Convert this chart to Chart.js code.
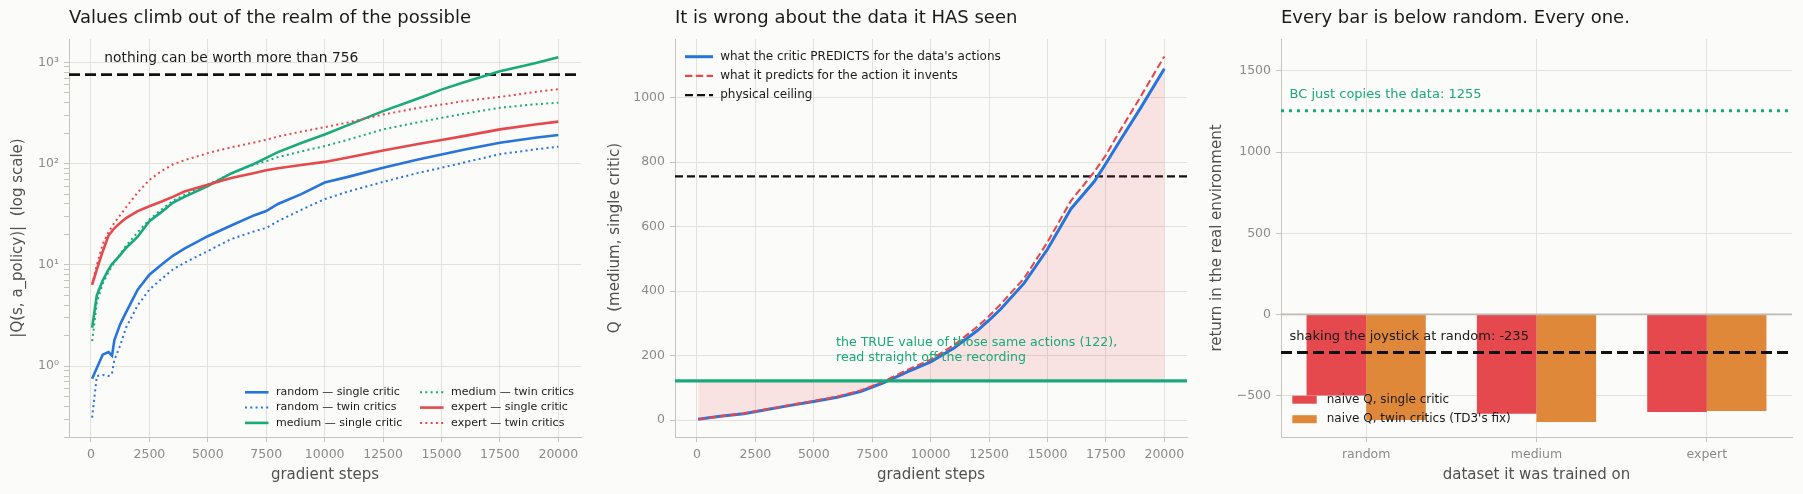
<!DOCTYPE html>
<html lang="en">
<head>
<meta charset="UTF-8">
<title>naive Q overestimation</title>
<script src="https://cdn.jsdelivr.net/npm/chart.js@4.4.1/dist/chart.umd.min.js"></script>
<style>
  html, body { margin: 0; padding: 0; background: #fbfbf9; }
  body { width: 1803px; height: 494px; position: relative; overflow: hidden; }
  canvas { position: absolute; top: 0; }
  #c1 { left: 0; }
  #c2 { left: 600px; }
  #c3 { left: 1200px; }
</style>
</head>
<body>
<canvas id="c1" width="600" height="494"></canvas>
<canvas id="c2" width="600" height="494"></canvas>
<canvas id="c3" width="603" height="494"></canvas>
<script>
// ---------- data ----------
// panel 1: |Q| for the policy action, log scale
const STEPS = [50, 250, 500, 750, 900, 1000, 1250, 1500, 2000, 2500, 3000, 3500, 4000, 5000,
               6000, 7000, 7500, 8000, 9000, 10000, 11000, 12500, 14000, 15000, 16000, 17500, 19000, 20000];
const randomSingle = [0.75, 0.96, 1.3, 1.38, 1.27, 1.8, 2.6, 3.4, 5.7, 8.0, 10.0, 12.3, 14.5, 19.2,
                      24.5, 31, 34, 40, 50, 65, 74, 91, 110, 123, 138, 161, 180, 192];
const randomTwin   = [0.31, 0.8, 0.82, 0.8, 0.85, 1.15, 1.6, 2.4, 4.0, 5.7, 7.2, 9.0, 10.5, 13.7,
                      18, 21.5, 23.2, 27, 35, 44.6, 53, 66, 81, 91, 103, 124, 138, 147];
const mediumSingle = [2.4, 5.0, 7.0, 9.0, 10.2, 10.8, 12.5, 14.7, 19, 27, 33, 41, 47, 60,
                      80, 100, 114, 130, 160, 194, 240, 330, 440, 538, 640, 815, 980, 1120];
const mediumTwin   = [1.77, 4.2, 6.5, 8.5, 9.8, 10.5, 12.8, 15.5, 21, 28, 35, 43, 49, 62,
                      80, 98, 106, 116, 132, 149, 172, 218, 256, 283, 312, 356, 385, 400];
const expertSingle = [6.4, 9, 13.5, 19.5, 21.5, 23, 26, 29, 34, 38, 42, 47, 53, 62,
                      72, 81, 86, 90, 97, 104, 115, 135, 156, 171, 188, 218, 243, 260];
const expertTwin   = [6.4, 10, 16, 21, 24, 26, 31, 37, 52, 69, 84, 98, 108, 127,
                      145, 162, 172, 185, 207, 229, 255, 305, 355, 383, 415, 456, 510, 543];
const DECADES = [1, 10, 100, 1000];
const DECADE_LABELS = ['10\u2070', '10\u00b9', '10\u00b2', '10\u00b3'];
const STEP_TICKS = [0, 2500, 5000, 7500, 10000, 12500, 15000, 17500, 20000];

// panel 2: medium dataset, single critic
const STEPS2 = [50, 1000, 2000, 3000, 4000, 5000, 6000, 7000, 7500, 8000, 9000, 10000,
                11000, 12000, 12500, 13000, 14000, 15000, 16000, 17000, 17500, 18000, 19000, 20000];
const predData     = [3, 12, 20, 33, 46, 58, 71, 89, 103, 117, 150, 181,
                      224, 278, 310, 345, 425, 530, 655, 740, 796, 855, 970, 1090];
const predInvented = [3, 12, 21, 34, 47, 60, 73, 92, 106, 121, 156, 188,
                      233, 290, 323, 360, 440, 552, 680, 770, 822, 885, 1005, 1128];
const Q_TICKS = [0, 200, 400, 600, 800, 1000];

// panel 3: returns in the real environment
const DATASETS = ['random', 'medium', 'expert'];
const singleReturn = [-500, -611, -601];
const twinReturn   = [-650, -662, -595];
const RETURN_TICKS = [-500, 0, 500, 1000, 1500];

const CEILING = 756;
const TRUE_Q = 122;
const BC_RETURN = 1255;
const RANDOM_RETURN = -235;

// ---------- look ----------
const FONT = "'DejaVu Sans', sans-serif";
const GRID = '#e3e1da', SPINE = '#c6c3ba', TICK = '#8a8a8a', LABEL = '#505050', INK = '#1a1a1a';
const BLUE = '#2774db', GREEN = '#19a97b', RED = '#e5484d', ORANGE = '#e0883a', BLACK = '#111111';
const DOT = [2, 3.3], DASH = [7.4, 3.4];

Chart.defaults.font.family = FONT;
Chart.defaults.color = TICK;
Chart.defaults.animation = false;

const fixTicks = list => s => { s.ticks = list.map(v => ({ value: v })); };
const plain = v => v < 0 ? '\u2212' + Math.abs(v) : String(v);

// horizontal reference lines, in data units of the y scale
const refLines = {
  id: 'refLines',
  _draw(chart, list) {
    const {ctx, chartArea: a, scales: {y}} = chart;
    ctx.save();
    ctx.beginPath(); ctx.rect(a.left, a.top, a.right - a.left, a.bottom - a.top); ctx.clip();
    list.forEach(l => {
      const py = y.getPixelForValue(l.y);
      ctx.beginPath();
      ctx.strokeStyle = l.color; ctx.lineWidth = l.width;
      ctx.setLineDash(l.dash || []);
      ctx.moveTo(a.left, py); ctx.lineTo(a.right, py); ctx.stroke();
    });
    ctx.restore();
  },
  beforeDatasetsDraw(chart, args, o) { if (o.below) this._draw(chart, o.below); },
  afterDatasetsDraw(chart, args, o) { if (o.above) this._draw(chart, o.above); }
};

// text placed at data coordinates
const notes = {
  id: 'notes',
  afterDatasetsDraw(chart, args, o) {
    if (!o.list) return;
    const {ctx, scales: {x, y}} = chart;
    ctx.save();
    ctx.textBaseline = 'middle'; ctx.textAlign = 'left';
    o.list.forEach(n => {
      ctx.font = n.size + 'px ' + FONT;
      ctx.fillStyle = n.color;
      const px = x.getPixelForValue(n.x), py = y.getPixelForValue(n.y);
      n.lines.forEach((t, k) => ctx.fillText(t, px, py + k * n.lh));
    });
    ctx.restore();
  }
};

// legend inside the plot, matplotlib-like
const panelLegend = {
  id: 'panelLegend',
  afterDraw(chart, args, o) {
    if (!o.items) return;
    const {ctx, chartArea: a} = chart;
    ctx.save();
    ctx.font = o.size + 'px ' + FONT;
    ctx.textBaseline = 'middle'; ctx.textAlign = 'left';
    o.items.forEach((it, i) => {
      const col = Math.floor(i / o.rows), row = i % o.rows;
      const x = a.left + o.x + col * (o.colW || 0);
      const y = a.top + o.y + row * o.rowH;
      if (it.box) {
        ctx.fillStyle = it.color;
        ctx.fillRect(x, y - o.boxH / 2, o.handle, o.boxH);
      } else {
        ctx.beginPath();
        ctx.strokeStyle = it.color; ctx.lineWidth = it.width;
        ctx.setLineDash(it.dash || []);
        ctx.moveTo(x, y); ctx.lineTo(x + o.handle, y); ctx.stroke();
        ctx.setLineDash([]);
      }
      ctx.fillStyle = INK;
      ctx.fillText(it.text, x + o.handle + o.gap, y);
    });
    ctx.restore();
  }
};

function titleOpts(text) {
  return { display: true, text, align: 'start', fullSize: false, color: INK,
           font: { size: 18, weight: 'normal' }, padding: { top: 0, bottom: 9.4 } };
}

function xSteps() {
  return {
    type: 'linear', min: -940, max: 20970,
    afterBuildTicks: fixTicks(STEP_TICKS),
    ticks: { color: TICK, font: { size: 12.5 }, padding: 5.5, maxRotation: 0, autoSkip: false, callback: plain },
    grid: { color: GRID, tickColor: SPINE, tickLength: 5 },
    border: { color: SPINE, width: 1 },
    title: { display: true, text: 'gradient steps', color: LABEL, font: { size: 15 }, padding: { top: 0, bottom: 9.5 } },
    afterFit: s => { s.height = 57; }
  };
}

function lineSet(label, xs, ys, color, width, dash, order) {
  return { label, data: xs.map((x, i) => ({ x, y: ys[i] })), borderColor: color, borderWidth: width,
           borderDash: dash || [], borderCapStyle: 'butt', pointRadius: 0, tension: 0, fill: false, order };
}

// ---------- panel 1 ----------
const p1sets = [
  lineSet('random \u2014 single critic', STEPS, randomSingle, BLUE, 2.6, null, 5),
  lineSet('random \u2014 twin critics', STEPS, randomTwin, BLUE, 2, DOT, 4),
  lineSet('medium \u2014 single critic', STEPS, mediumSingle, GREEN, 2.6, null, 3),
  lineSet('medium \u2014 twin critics', STEPS, mediumTwin, GREEN, 2, DOT, 2),
  lineSet('expert \u2014 single critic', STEPS, expertSingle, RED, 2.6, null, 1),
  lineSet('expert \u2014 twin critics', STEPS, expertTwin, RED, 2, DOT, 0)
];
const LOG_TICKS = [];
[-1, 0, 1, 2, 3].forEach(e => { for (let d = 1; d <= 9; d++) {
  const v = +(d * Math.pow(10, e)).toPrecision(3);
  if (v >= 0.2 && v <= 1700) LOG_TICKS.push(v);
} });

new Chart(document.getElementById('c1'), {
  type: 'line',
  data: { datasets: p1sets },
  options: {
    responsive: false,
    layout: { padding: { left: 0, right: 19, top: 8, bottom: 0 } },
    scales: {
      x: xSteps(),
      y: {
        type: 'logarithmic', min: 0.2, max: 1700,
        afterBuildTicks: fixTicks(LOG_TICKS),
        ticks: { autoSkip: false, color: TICK, font: { size: 12.5 }, padding: 5,
                 callback: v => { const k = DECADES.indexOf(v); return k < 0 ? '' : DECADE_LABELS[k]; } },
        grid: { color: c => DECADES.includes(c.tick && c.tick.value) ? GRID : 'rgba(0,0,0,0)',
                tickColor: SPINE, tickLength: 5 },
        border: { color: SPINE, width: 1 },
        title: { display: true, text: '|Q(s, a_policy)|  (log scale)', color: LABEL, font: { size: 15 }, padding: { top: 9 } },
        afterFit: s => { s.width = 69; }
      }
    },
    plugins: {
      legend: { display: false }, tooltip: { enabled: false },
      title: titleOpts('Values climb out of the realm of the possible'),
      refLines: { below: [{ y: CEILING, color: BLACK, width: 2.6, dash: [11, 5] }] },
      notes: { list: [{ x: 570, y: 1100, lines: ['nothing can be worth more than 756'], color: INK, size: 13.8, lh: 0 }] },
      panelLegend: { x: 176, y: 353.3, rows: 3, colW: 175, rowH: 15.3, handle: 23.5, gap: 7.6, size: 11,
                     items: p1sets.map(d => ({ text: d.label, color: d.borderColor, width: d.borderWidth, dash: d.borderDash })) }
    }
  },
  plugins: [refLines, notes, panelLegend]
});

// ---------- panel 2 ----------
const p2sets = [
  Object.assign(lineSet('what the critic PREDICTS for the data\'s actions', STEPS2, predData, BLUE, 3, null, 1),
                { fill: { value: TRUE_Q }, backgroundColor: 'rgba(229,72,77,0.13)' }),
  lineSet('what it predicts for the action it invents', STEPS2, predInvented, RED, 2.1, DASH, 0)
];

new Chart(document.getElementById('c2'), {
  type: 'line',
  data: { datasets: p2sets },
  options: {
    responsive: false,
    layout: { padding: { left: 0, right: 13, top: 8, bottom: 0 } },
    scales: {
      x: xSteps(),
      y: {
        type: 'linear', min: -52, max: 1182,
        afterBuildTicks: fixTicks(Q_TICKS),
        ticks: { color: TICK, font: { size: 12.5 }, padding: 5, callback: plain },
        grid: { color: GRID, tickColor: SPINE, tickLength: 5 },
        border: { color: SPINE, width: 1 },
        title: { display: true, text: 'Q  (medium, single critic)', color: LABEL, font: { size: 15 }, padding: { top: 5.7 } },
        afterFit: s => { s.width = 75; }
      }
    },
    plugins: {
      legend: { display: false }, tooltip: { enabled: false },
      title: titleOpts('It is wrong about the data it HAS seen'),
      refLines: { below: [{ y: CEILING, color: BLACK, width: 2.2, dash: [8, 4] }],
                  above: [{ y: TRUE_Q, color: GREEN, width: 3.4 }] },
      notes: { list: [{ x: 5950, y: 240, lines: ['the TRUE value of those same actions (122),', 'read straight off the recording'],
                        color: GREEN, size: 12.6, lh: 14.8 }] },
      panelLegend: { x: 10, y: 17.7, rows: 3, rowH: 19.2, handle: 28, gap: 7.2, size: 12,
                     items: p2sets.map(d => ({ text: d.label, color: d.borderColor, width: d.borderWidth, dash: d.borderDash }))
                       .concat([{ text: 'physical ceiling', color: BLACK, width: 2.2, dash: [8, 4] }]) }
    }
  },
  plugins: [refLines, notes, panelLegend]
});

// ---------- panel 3 ----------
const p3sets = [
  { label: 'naive Q, single critic', data: singleReturn, backgroundColor: RED },
  { label: 'naive Q, twin critics (TD3\'s fix)', data: twinReturn, backgroundColor: ORANGE }
];

new Chart(document.getElementById('c3'), {
  type: 'bar',
  data: { labels: DATASETS, datasets: p3sets },
  options: {
    responsive: false,
    categoryPercentage: 0.7, barPercentage: 1.0,
    layout: { padding: { left: 0, right: 11, top: 8, bottom: 0 } },
    scales: {
      x: {
        type: 'category', offset: true,
        ticks: { color: TICK, font: { size: 12.5 }, padding: 5.5 },
        grid: { offset: false, color: GRID, tickColor: SPINE, tickLength: 5 },
        border: { color: SPINE, width: 1 },
        title: { display: true, text: 'dataset it was trained on', color: LABEL, font: { size: 15 }, padding: { top: 0, bottom: 9.5 } },
        afterFit: s => { s.height = 57; }
      },
      y: {
        type: 'linear', min: -755, max: 1697,
        afterBuildTicks: fixTicks(RETURN_TICKS),
        ticks: { color: TICK, font: { size: 12.5 }, padding: 5, callback: plain },
        grid: { color: GRID, tickColor: SPINE, tickLength: 5 },
        border: { color: SPINE, width: 1 },
        title: { display: true, text: 'return in the real environment', color: LABEL, font: { size: 15 }, padding: { top: 8.6 } },
        afterFit: s => { s.width = 81; }
      }
    },
    plugins: {
      legend: { display: false }, tooltip: { enabled: false },
      title: titleOpts('Every bar is below random. Every one.'),
      refLines: { above: [
        { y: 0, color: '#bebbb2', width: 1.8 },
        { y: RANDOM_RETURN, color: BLACK, width: 3, dash: [11, 5] },
        { y: BC_RETURN, color: GREEN, width: 3, dash: [3, 5] }
      ] },
      notes: { list: [
        { x: -0.45, y: 1352, lines: ['BC just copies the data: 1255'], color: GREEN, size: 13, lh: 0 },
        { x: -0.45, y: -138, lines: ['shaking the joystick at random: -235'], color: INK, size: 13, lh: 0 }
      ] },
      panelLegend: { x: 11.3, y: 360.7, rows: 2, rowH: 19.5, handle: 24.4, boxH: 8, gap: 10, size: 12,
                     items: p3sets.map(d => ({ text: d.label, color: d.backgroundColor, box: true })) }
    }
  },
  plugins: [refLines, notes, panelLegend]
});
</script>
</body>
</html>
